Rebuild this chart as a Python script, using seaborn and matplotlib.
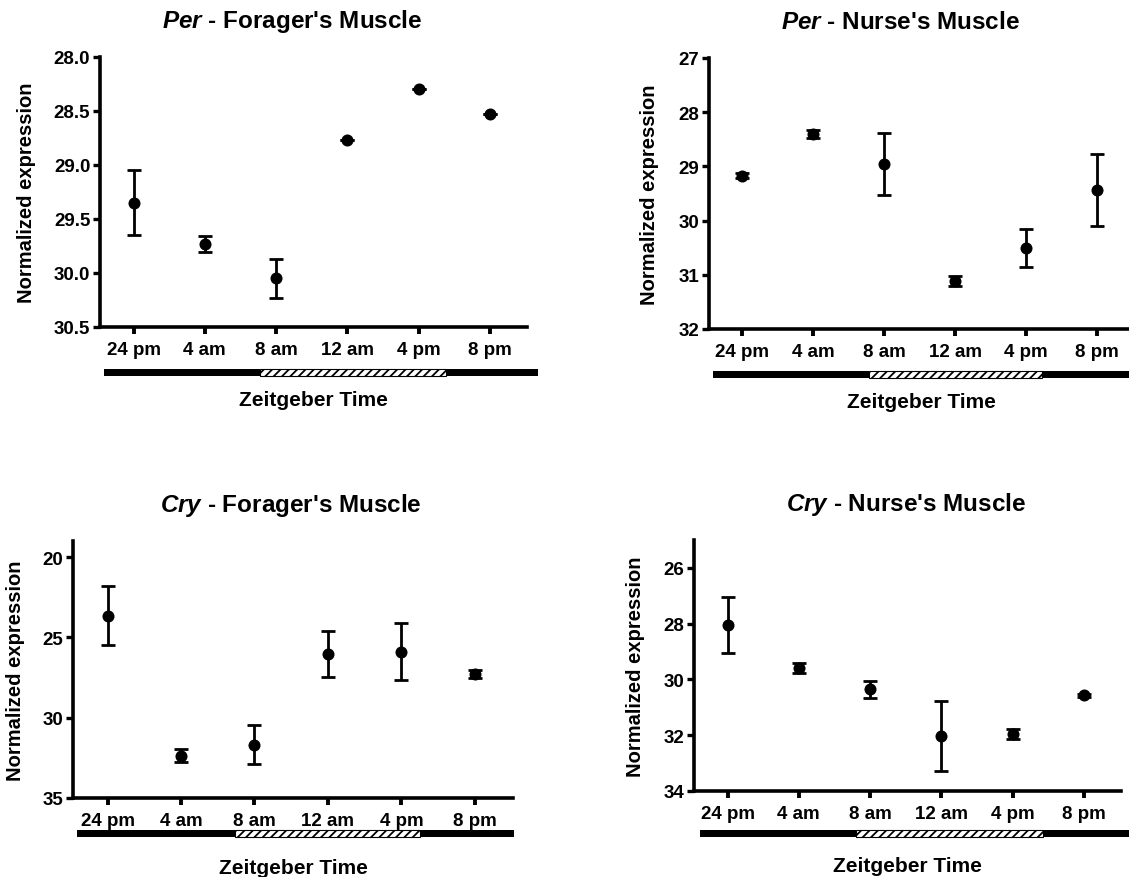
import numpy as np
import pandas as pd
import matplotlib
matplotlib.use('Agg')
import matplotlib.pyplot as plt
import matplotlib.transforms as mtransforms
from matplotlib.patches import Rectangle
import seaborn as sns

# Datos - media y error estandar
tiempos = ['24 pm', '4 am', '8 am', '12 am', '4 pm', '8 pm']

per_forager = [29.35, 29.73, 30.05, 28.77, 28.30, 28.53]
per_forager_err = [0.30, 0.075, 0.18, 0.0, 0.0, 0.0]

per_nurse = [29.17, 28.40, 28.95, 31.11, 30.51, 29.44]
per_nurse_err = [0.04, 0.08, 0.57, 0.09, 0.35, 0.66]

cry_forager = [23.64, 32.36, 31.68, 26.03, 25.88, 27.27]
cry_forager_err = [1.82, 0.40, 1.20, 1.43, 1.75, 0.25]

cry_nurse = [28.04, 29.58, 30.36, 32.03, 31.97, 30.57]
cry_nurse_err = [1.00, 0.18, 0.29, 1.27, 0.18, 0.05]

sns.set_theme(style='ticks', rc={'axes.edgecolor': 'black', 'xtick.color': 'black',
                                 'ytick.color': 'black', 'text.color': 'black',
                                 'axes.labelcolor': 'black'})
plt.rcParams['font.family'] = ['Liberation Sans', 'DejaVu Sans']
plt.rcParams['font.weight'] = 'bold'
plt.rcParams['mathtext.fontset'] = 'custom'
plt.rcParams['mathtext.it'] = 'Liberation Sans:italic:bold'
plt.rcParams['mathtext.rm'] = 'Liberation Sans:bold'
plt.rcParams['hatch.linewidth'] = 1.3

W, H = 1129, 878
fig = plt.figure(figsize=(W / 100, H / 100), dpi=100)

# caja en pixeles (izq, der, arriba, abajo), escala y, titulo, barra luz/oscuridad
paneles = [
    dict(box=(100, 527, 58, 328), data=per_forager, err=per_forager_err,
         ylim=(30.5, 28.0), yticks=np.arange(28.0, 30.51, 0.5), fmt='{:.1f}',
         title=r"$\mathit{Per}$ - Forager's Muscle", tx=0.45, ylab=-64, xlab=63,
         bar_off=45, segs=[(-0.41, 1.78), (1.78, 4.39), (4.39, 5.68)]),
    dict(box=(709, 1134, 59, 330), data=per_nurse, err=per_nurse_err,
         ylim=(32, 27), yticks=np.arange(27, 33, 1), fmt='{:.0f}',
         title=r"$\mathit{Per}$ - Nurse's Muscle", tx=0.45, ylab=-50, xlab=63,
         bar_off=45, segs=[(-0.41, 1.79), (1.79, 4.23), (4.23, 5.8)]),
    dict(box=(73, 513, 542, 799), data=cry_forager, err=cry_forager_err,
         ylim=(35, 19), yticks=[20, 25, 30, 35], fmt='{:.0f}',
         title=r"$\mathit{Cry}$ - Forager's Muscle", tx=0.495, ylab=-48, xlab=60,
         bar_off=35, segs=[(-0.42, 1.74), (1.74, 4.26), (4.26, 5.54)]),
    dict(box=(694, 1121, 541, 792), data=cry_nurse, err=cry_nurse_err,
         ylim=(34, 25), yticks=[26, 28, 30, 32, 34], fmt='{:.0f}',
         title=r"$\mathit{Cry}$ - Nurse's Muscle", tx=0.497, ylab=-49, xlab=65,
         bar_off=42, segs=[(-0.38, 1.80), (1.80, 4.43), (4.43, 5.9)]),
]

for p in paneles:
    l, r, t, b = p['box']
    ax = fig.add_axes([l / W, (H - b) / H, (r - l) / W, (b - t) / H])
    alto = b - t

    df = pd.DataFrame({'tiempo': tiempos, 'valor': p['data']})
    ax.errorbar(tiempos, p['data'], yerr=p['err'], fmt='none', ecolor='black',
                elinewidth=2.0, capsize=5, capthick=2.0, zorder=2)
    sns.scatterplot(data=df, x='tiempo', y='valor', ax=ax, color='black',
                    s=75, marker='o', edgecolor='black', linewidth=0, zorder=3)

    ax.set_xlim(-0.47, 5.52)
    ax.set_ylim(*p['ylim'])
    ax.set_yticks(p['yticks'])
    ax.set_yticklabels([p['fmt'].format(v) for v in p['yticks']])

    sns.despine(ax=ax)
    for s in ['left', 'bottom']:
        ax.spines[s].set_linewidth(2.6)
    ax.tick_params(axis='y', length=5, width=2.4, pad=2, labelsize=13.5)
    ax.tick_params(axis='x', length=5, width=2.8, pad=5, labelsize=13.5)
    for lab in ax.get_xticklabels() + ax.get_yticklabels():
        lab.set_fontweight('bold')

    ax.set_xlabel('')
    ax.set_ylabel('Normalized expression', fontsize=14.5, fontweight='bold')
    ax.yaxis.set_label_coords(p['ylab'] / (r - l), 0.5)

    ax.text(0.5, -p['xlab'] / alto, 'Zeitgeber Time', transform=ax.transAxes,
            ha='center', va='top', fontsize=15, fontweight='bold')
    ax.text(p['tx'], 1 + 30 / alto, p['title'], transform=ax.transAxes,
            ha='center', va='baseline', fontsize=17.5, fontweight='bold')

    # barra de luz / oscuridad
    trans = mtransforms.blended_transform_factory(ax.transData, ax.transAxes)
    y0 = -(p['bar_off'] + 3.5) / alto
    hb = 7 / alto
    for i, (x0, x1) in enumerate(p['segs']):
        if i == 1:
            rect = Rectangle((x0, y0), x1 - x0, hb, transform=trans, clip_on=False,
                             facecolor='white', edgecolor='black', hatch='////', linewidth=0.8)
        else:
            rect = Rectangle((x0, y0), x1 - x0, hb, transform=trans, clip_on=False,
                             facecolor='black', edgecolor='black', linewidth=0)
        ax.add_patch(rect)

fig.savefig('out.png', dpi=100)
